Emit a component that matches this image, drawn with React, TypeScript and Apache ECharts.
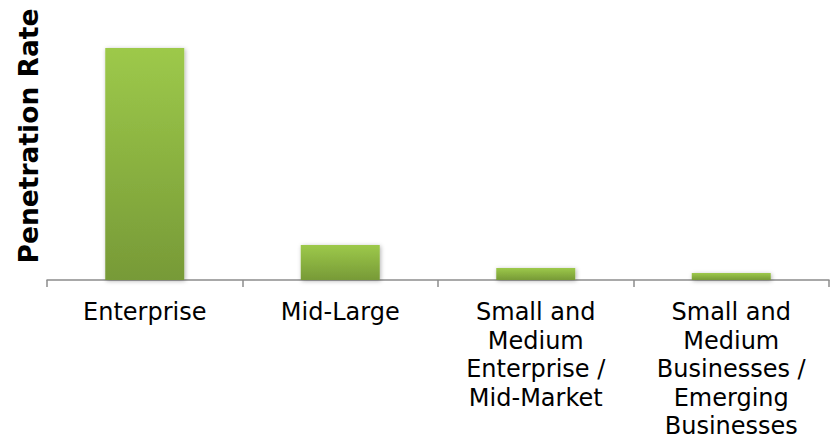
import React, { useEffect, useRef } from "react";
import * as echarts from "echarts";

const categories = [
  "Enterprise",
  "Mid-Large",
  "Small and\nMedium\nEnterprise /\nMid-Market",
  "Small and\nMedium\nBusinesses /\nEmerging\nBusinesses",
];
const penetration = [100, 15.1, 5.2, 3.0];
const yTitle = "Penetration Rate";

export default function App() {
  const ref = useRef<HTMLDivElement>(null);
  useEffect(() => {
    if (!ref.current) return;
    const chart = echarts.init(ref.current, null, { renderer: "svg" });
    chart.setOption({
      animation: false,
      backgroundColor: "#ffffff",
      grid: {
        left: 47,
        right: 8,
        top: 48,
        bottom: 161,
        containLabel: false,
        outerBoundsMode: "none",
      },
      graphic: [
        {
          type: "text",
          x: 28,
          y: 136,
          rotation: Math.PI / 2,
          style: {
            text: yTitle,
            fill: "#000000",
            fontFamily: "DejaVu Sans",
            fontWeight: "bold",
            fontSize: 26.5,
            align: "center",
            verticalAlign: "middle",
          },
        },
      ],
      xAxis: {
        type: "category",
        data: categories,
        axisLine: { show: true, lineStyle: { color: "#8c8c8c", width: 1.5 } },
        axisTick: {
          show: true,
          length: 7,
          lineStyle: { color: "#8c8c8c", width: 1.5 },
        },
        axisLabel: {
          color: "#000000",
          fontFamily: "DejaVu Sans",
          fontSize: 24,
          lineHeight: 28.5,
          margin: 18,
          interval: 0,
        },
      },
      yAxis: {
        type: "value",
        min: 0,
        max: 100,
        axisLine: { show: false },
        axisTick: { show: false },
        axisLabel: { show: false },
        splitLine: { show: false },
      },
      series: [
        {
          type: "bar",
          data: penetration,
          barWidth: 79,
          itemStyle: {
            color: new echarts.graphic.LinearGradient(0, 0, 0, 1, [
              { offset: 0, color: "#9dc94a" },
              { offset: 1, color: "#779a37" },
            ]),
            shadowBlur: 4,
            shadowColor: "rgba(0,0,0,0.3)",
            shadowOffsetX: 1,
            shadowOffsetY: 1,
          },
        },
      ],
    });
    return () => chart.dispose();
  }, []);
  return (
    <div
      ref={ref}
      style={{ position: "fixed", left: 0, top: 0, width: 837, height: 441 }}
    />
  );
}
